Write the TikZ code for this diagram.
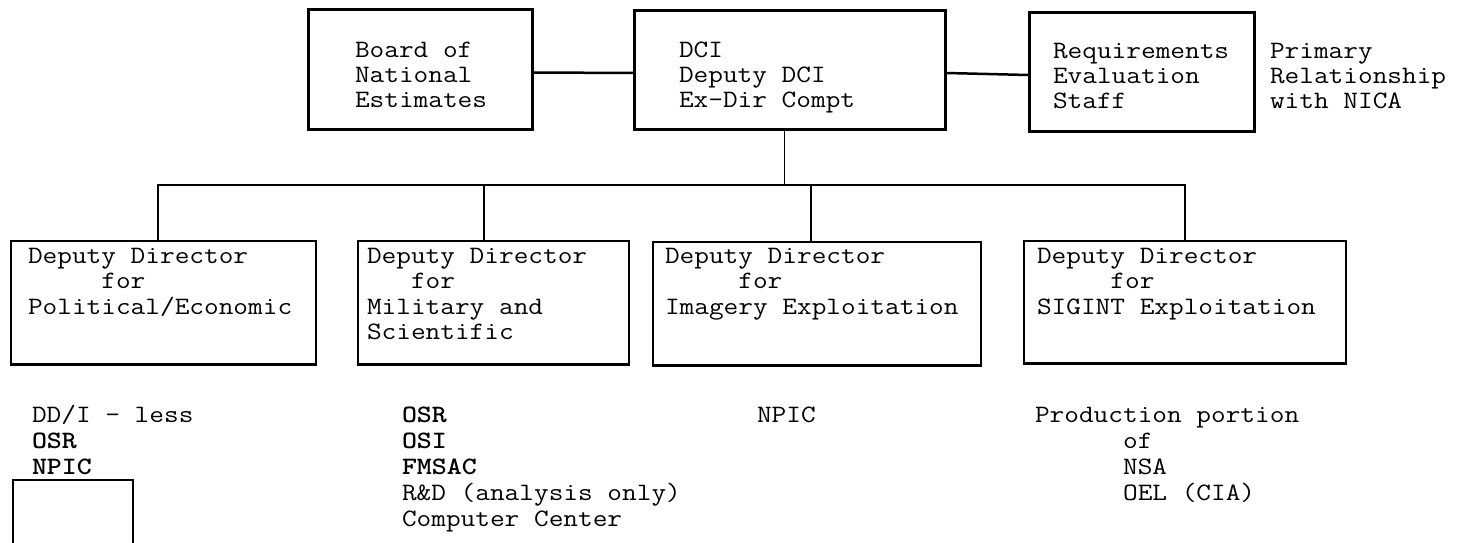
\documentclass[tikz,border=0pt]{standalone}
\usepackage{graphicx}
\newcommand\mystack[1]{\scalebox{1.14}[1]{\vtop{\halign{##\hfil\cr#1\crcr}}}}
\begin{document}
\begin{tikzpicture}[x=1pt,y=-1pt,
  txt/.style={anchor=base west, inner sep=0pt, outer sep=0pt,
    font=\ttfamily\fontsize{25}{25.5}\selectfont},
  toptxt/.style={txt, font=\ttfamily\fontsize{25}{25}\selectfont},
  listtxt/.style={txt, font=\ttfamily\fontsize{25}{26}\selectfont},
  topbox/.style={draw, line width=3pt, inner sep=0pt, anchor=north west},
  lowbox/.style={draw, line width=1.7pt, inner sep=0pt, anchor=north west},
  topconn/.style={line width=2.5pt},
  lowconn/.style={line width=1.7pt},
  lowedge/.style={line width=2.6pt}
]
\path[use as bounding box, fill=white] (0,0) rectangle (1473,543);

% top row
\node[topbox, minimum width=224pt, minimum height=120pt] (board) at (307,8) {};
\node[topbox, minimum width=311pt, minimum height=119pt] (dci) at (633,9) {};
\node[topbox, minimum width=225pt, minimum height=119pt] (req) at (1028,11) {};

\node[toptxt] (boardt) at (355,58) {\mystack{Board of\cr National\cr Estimates}};
\node[toptxt] (dcit) at (679,58) {\mystack{DCI\cr Deputy DCI\cr Ex-Dir Compt}};
\node[toptxt] (reqt) at (1053,59) {\mystack{Requirements\cr Evaluation\cr Staff}};
\node[toptxt] (prim) at (1270,59) {\mystack{Primary\cr Relationship\cr with NICA}};

\draw[topconn] ([yshift=-3pt]board.east) -- ([yshift=-3pt]dci.west);
\draw[topconn] ([yshift=-3pt]dci.east) -- ([yshift=-3pt]req.west);

% lower row
\node[lowbox, minimum width=305pt, minimum height=123pt] (pol) at (10,240) {};
\node[lowbox, minimum width=271pt, minimum height=123pt] (mil) at (357,240) {};
\node[lowbox, minimum width=328pt, minimum height=123pt] (img) at (652,241) {};
\node[lowbox, minimum width=322pt, minimum height=122pt] (sig) at (1023,240) {};
\foreach \b in {pol,mil,img,sig}
  \draw[lowedge] (\b.south west) -- (\b.south east);

\node[txt] (polt) at (28,263) {\mystack{Deputy Director\cr\phantom{XXXXX}for\cr Political/Economic}};
\node[txt] (milt) at (367,263) {\mystack{Deputy Director\cr\phantom{XXX}for\cr Military and\cr Scientific}};
\node[txt] (imgt) at (665,263) {\mystack{Deputy Director\cr\phantom{XXXXX}for\cr Imagery Exploitation}};
\node[txt] (sigt) at (1037,263) {\mystack{Deputy Director\cr\phantom{XXXXX}for\cr SIGINT Exploitation}};

\coordinate (bus) at (0,185);
\draw[lowconn] ([xshift=-5.5pt]dci.south) -- ([xshift=-5.5pt]dci.south |- bus);
\draw[lowconn] ([xshift=-5.5pt]pol.north) |- (sig.north |- bus) -- (sig.north);
\draw[lowconn] ([xshift=-9.5pt]mil.north) -- ([xshift=-9.5pt]mil.north |- bus);
\draw[lowconn] ([xshift=-6pt]img.north) -- ([xshift=-6pt]img.north |- bus);

% lists
\node[listtxt] (pollist) at (32,422) {\mystack{DD/I - less\cr\textbf{OSR}\cr\textbf{NPIC}}};
\node[listtxt] (millist) at (402,422) {\mystack{\textbf{OSR}\cr\textbf{OSI}\cr\textbf{FMSAC}\cr R\&D (analysis only)\cr Computer Center}};
\node[listtxt] (imglist) at (757,422) {\mystack{NPIC}};
\node[listtxt] (siglist) at (1035,422) {\mystack{Production portion\cr\phantom{XXXXXX}of\cr\phantom{XXXXXX}NSA\cr\phantom{XXXXXX}OEL (CIA)}};

% empty box cut by the lower edge
\draw[line width=2.5pt] (13,550) |- (133,480) -- (133,550);
\end{tikzpicture}
\end{document}
